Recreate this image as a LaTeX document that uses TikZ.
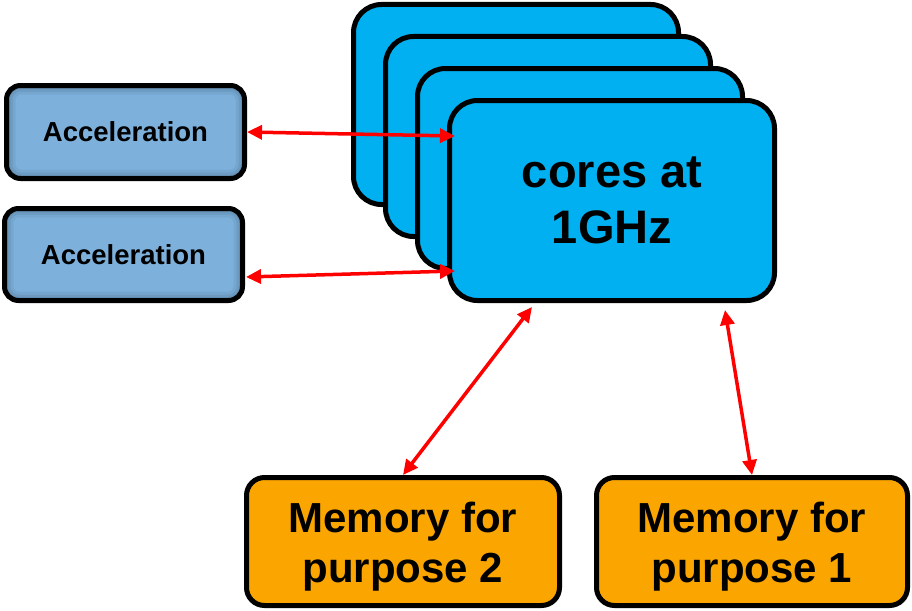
\documentclass[tikz,border=0pt]{standalone}
\usepackage{fontspec}
\setmainfont{Liberation Sans}
\usetikzlibrary{arrows.meta,calc}
\definecolor{coreblue}{HTML}{00B0F0}
\definecolor{accblue}{HTML}{7DB1DC}
\definecolor{memorange}{HTML}{FAA500}
\definecolor{linkred}{HTML}{FF0000}
\begin{document}
\begin{tikzpicture}[x=1pt,y=-1pt,
  box/.style={draw=black, line width=5pt, inner sep=0pt, align=center},
  core/.style={box, fill=coreblue, rounded corners=28pt,
    minimum width=325pt, minimum height=200pt,
    font=\bfseries\fontsize{47}{56}\selectfont},
  acc/.style={box, fill=accblue, rounded corners=14pt,
    minimum width=238pt, minimum height=93pt,
    font=\bfseries\fontsize{27.5}{33}\selectfont,
    path picture={
      \foreach \w/\o in {18/0.06,12/0.07,7/0.08}
        \draw[line width=\w pt, black, opacity=\o, rounded corners=14pt]
          (path picture bounding box.north west) rectangle
          (path picture bounding box.south east);}},
  mem/.style={box, fill=memorange, rounded corners=18pt,
    minimum height=128pt, text depth=0pt,
    font=\bfseries\fontsize{42}{50}\selectfont},
  link/.style={draw=linkred, line width=3.5pt, <->,
    >={Triangle[length=15pt,width=14pt]}}
]
\useasboundingbox (0,0) rectangle (912,610);

% stack of processor cores, back to front
\node[core] (core3) at (516,104.5) {};
\node[core] (core2) at (548,136.5) {};
\node[core] (core1) at (580,168.5) {};
\node[core] (front) at (612,200.5) {cores at\\1GHz};

% accelerators
\node[acc] (acc1) at (125.5,132) {Acceleration};
\node[acc, minimum height=92pt] (acc2) at (123.5,254.5) {Acceleration};

% memories
\node[mem, minimum width=313pt] (mem2) at (403,541.5) {\raisebox{-2pt}{Memory for}\\\raisebox{-2pt}{purpose 2}};
\node[mem, minimum width=311pt] (mem1) at (752,541.5) {\raisebox{-2pt}{Memory for}\\\raisebox{-2pt}{purpose 1}};

% links
\draw[link] (acc1.east) -- ($(front.north west)+(8,38)$);
\draw[link] ($(acc2.east)+(1,22.5)$) -- ($(front.north west)+(8,173)$);
\draw[link] ($(front.south)+(-80,4)$) -- (mem2.north);
\draw[link] ($(front.south)+(113,7)$) -- (mem1.north);
\end{tikzpicture}
\end{document}
